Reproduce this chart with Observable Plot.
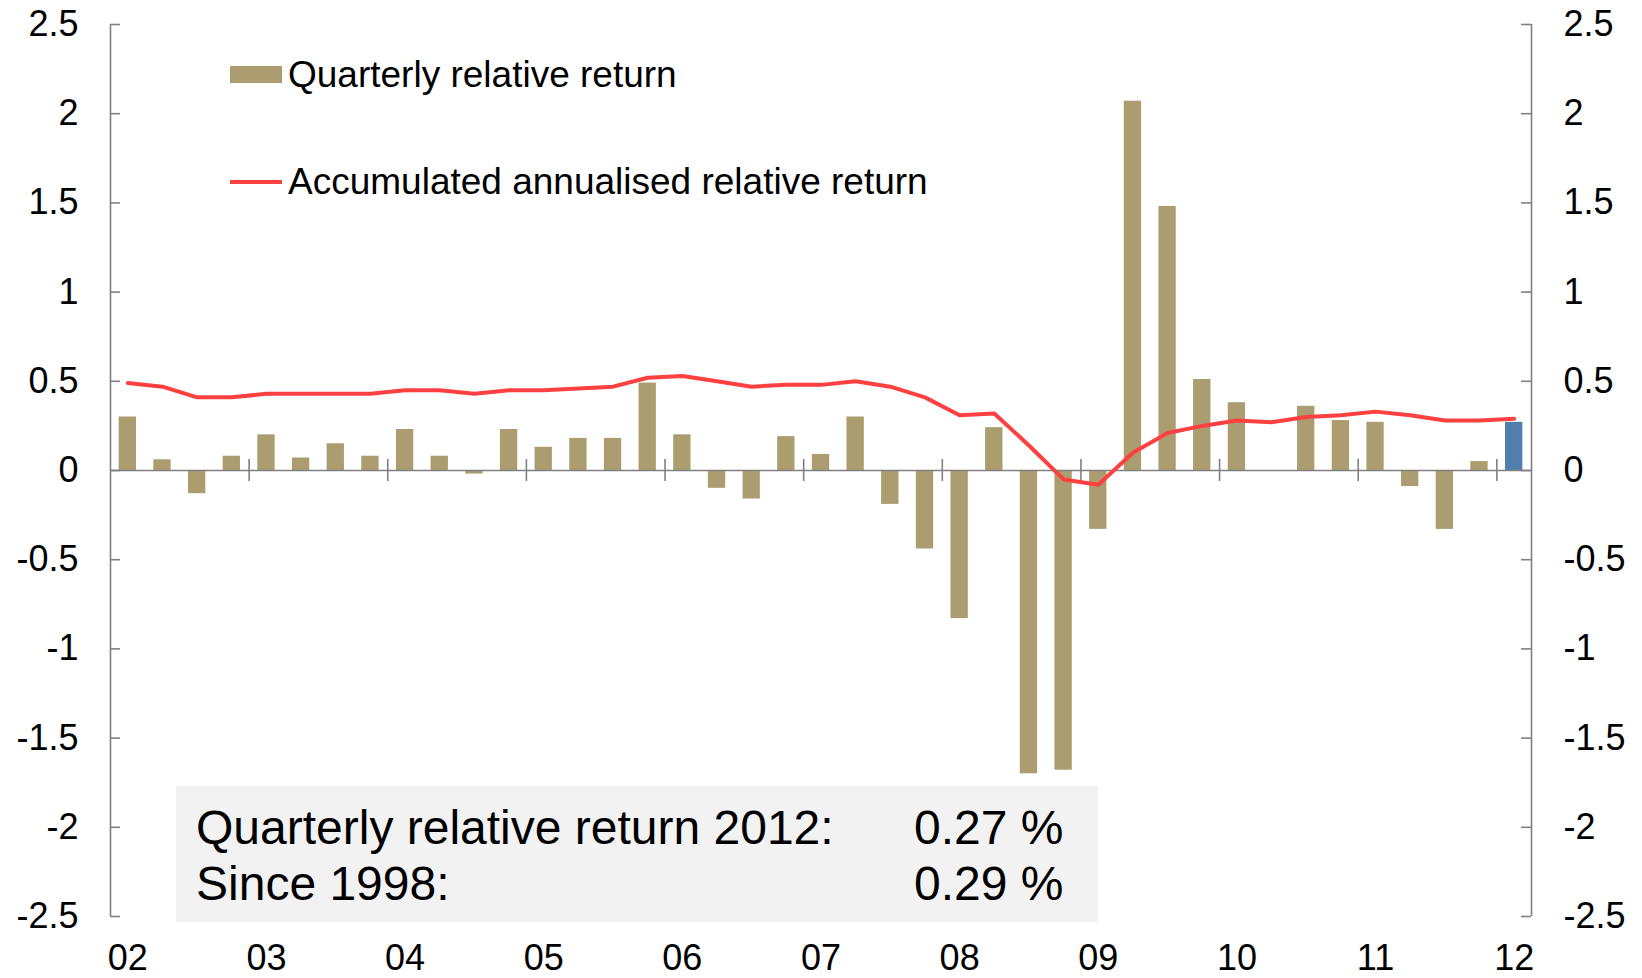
<!DOCTYPE html>
<html>
<head>
<meta charset="utf-8">
<script src="https://cdn.jsdelivr.net/npm/d3@7"></script>
<script src="https://cdn.jsdelivr.net/npm/@observablehq/plot@0.6"></script>
<style>
  html, body { margin: 0; padding: 0; background: #ffffff; }
  #chart { width: 1642px; height: 978px; }
</style>
</head>
<body>
<div id="chart"></div>
<script>
// Quarters from 2002 Q1 to 2012 Q1
const quarters = [
  "2002Q1", "2002Q2", "2002Q3", "2002Q4",
  "2003Q1", "2003Q2", "2003Q3", "2003Q4",
  "2004Q1", "2004Q2", "2004Q3", "2004Q4",
  "2005Q1", "2005Q2", "2005Q3", "2005Q4",
  "2006Q1", "2006Q2", "2006Q3", "2006Q4",
  "2007Q1", "2007Q2", "2007Q3", "2007Q4",
  "2008Q1", "2008Q2", "2008Q3", "2008Q4",
  "2009Q1", "2009Q2", "2009Q3", "2009Q4",
  "2010Q1", "2010Q2", "2010Q3", "2010Q4",
  "2011Q1", "2011Q2", "2011Q3", "2011Q4",
  "2012Q1"
];

// Quarterly relative return, percentage points
const relativeReturn = [
  0.30, 0.06, -0.13, 0.08,
  0.20, 0.07, 0.15, 0.08,
  0.23, 0.08, -0.02, 0.23,
  0.13, 0.18, 0.18, 0.49,
  0.20, -0.10, -0.16, 0.19,
  0.09, 0.30, -0.19, -0.44,
  -0.83, 0.24, -1.70, -1.68,
  -0.33, 2.07, 1.48, 0.51,
  0.38, 0.00, 0.36, 0.28,
  0.27, -0.09, -0.33, 0.05,
  0.27
];

// Accumulated annualised relative return, percentage points
const accumulatedReturn = [
  0.49, 0.47, 0.41, 0.41,
  0.43, 0.43, 0.43, 0.43,
  0.45, 0.45, 0.43, 0.45,
  0.45, 0.46, 0.47, 0.52,
  0.53, 0.50, 0.47, 0.48,
  0.48, 0.50, 0.47, 0.41,
  0.31, 0.32, 0.14, -0.05,
  -0.08, 0.10, 0.21, 0.25,
  0.28, 0.27, 0.30, 0.31,
  0.33, 0.31, 0.28, 0.28,
  0.29
];

const yearLabels = ["02", "03", "04", "05", "06", "07", "08", "09", "10", "11", "12"];
const yTicks = [-2.5, -2, -1.5, -1, -0.5, 0, 0.5, 1, 1.5, 2, 2.5];
const legendLabels = ["Quarterly relative return", "Accumulated annualised relative return"];
const summaryLabels = ["Quarterly relative return 2012:", "Since 1998:"];

const W = 1642, H = 978;
const margin = {top: 24, right: 111, bottom: 62, left: 110};
const innerW = W - margin.left - margin.right;
const tickLen = 10;

const tan = "#ab9d70";
const blue = "#517fab";
const red = "#ff4040";
const grey = "#808080";
const fontFamily = "'Liberation Sans', Arial, Helvetica, sans-serif";

const rows = quarters.map((q, i) => ({
  i, q,
  ret: relativeReturn[i],
  acc: accumulatedReturn[i],
  latest: i === quarters.length - 1
}));

// First quarter of each year carries the year label; year boundaries get a small tick
const yearStarts = yearLabels.map((_, k) => k * 4);
const yearBreaks = yearLabels.slice(1).map((_, k) => k * 4 + 3.5);

const svg = Plot.plot({
  width: W,
  height: H,
  marginTop: margin.top,
  marginRight: margin.right,
  marginBottom: margin.bottom,
  marginLeft: margin.left,
  style: {fontFamily, fontSize: "36px", color: "#000", background: "#fff"},
  x: {type: "linear", domain: [-0.5, quarters.length - 0.5], label: null},
  y: {domain: [-2.5, 2.5], label: null},
  marks: [
    // quarterly bars, latest quarter highlighted
    Plot.rect(rows, {
      x1: d => d.i - 0.25,
      x2: d => d.i + 0.25,
      y1: 0,
      y2: "ret",
      fill: d => d.latest ? blue : tan
    }),
    // zero line with year-boundary ticks
    Plot.ruleY([0], {stroke: grey, strokeWidth: 1.6}),
    Plot.ruleX(yearBreaks, {y1: -0.062, y2: 0.062, stroke: grey, strokeWidth: 1.6}),
    // accumulated return line
    Plot.lineY(rows, {x: "i", y: "acc", stroke: red, strokeWidth: 4, strokeLinejoin: "round"}),
    // left and right axis lines with inward ticks
    Plot.ruleX([-0.5, quarters.length - 0.5], {stroke: grey, strokeWidth: 1.6}),
    Plot.ruleY(yTicks, {insetRight: innerW - tickLen, stroke: grey, strokeWidth: 1.6}),
    Plot.ruleY(yTicks, {insetLeft: innerW - tickLen, stroke: grey, strokeWidth: 1.6}),
    Plot.axisY({anchor: "left", ticks: yTicks, tickSize: 0, tickPadding: 32, tickFormat: d => String(d), fontSize: 36, label: null}),
    Plot.axisY({anchor: "right", ticks: yTicks, tickSize: 0, tickPadding: 32, tickFormat: d => String(d), fontSize: 36, label: null}),
    Plot.axisX({ticks: yearStarts, tickSize: 0, tickPadding: 28, tickFormat: i => yearLabels[i / 4], fontSize: 36, label: null})
  ]
});

const g = d3.select(svg).append("g")
  .attr("font-family", fontFamily)
  .attr("text-anchor", "start")
  .attr("fill", "#000");

// legend
g.append("rect").attr("x", 230).attr("y", 66).attr("width", 52).attr("height", 17).attr("fill", tan);
g.append("text").attr("x", 288).attr("y", 87).attr("font-size", 37).text(legendLabels[0]);
g.append("line").attr("x1", 230).attr("x2", 282).attr("y1", 182).attr("y2", 182)
  .attr("stroke", red).attr("stroke-width", 4);
g.append("text").attr("x", 288).attr("y", 194).attr("font-size", 37).text(legendLabels[1]);

// summary box
const summaryValues = [
  relativeReturn[relativeReturn.length - 1],
  accumulatedReturn[accumulatedReturn.length - 1]
];
g.append("rect").attr("x", 176).attr("y", 786).attr("width", 922).attr("height", 136).attr("fill", "#f2f2f2");
summaryLabels.forEach((label, k) => {
  const y = 844 + k * 56;
  g.append("text").attr("x", 196).attr("y", y).attr("font-size", 48).text(label);
  g.append("text").attr("x", 914).attr("y", y).attr("font-size", 48).text(`${summaryValues[k].toFixed(2)} %`);
});

document.getElementById("chart").appendChild(svg);
</script>
</body>
</html>
